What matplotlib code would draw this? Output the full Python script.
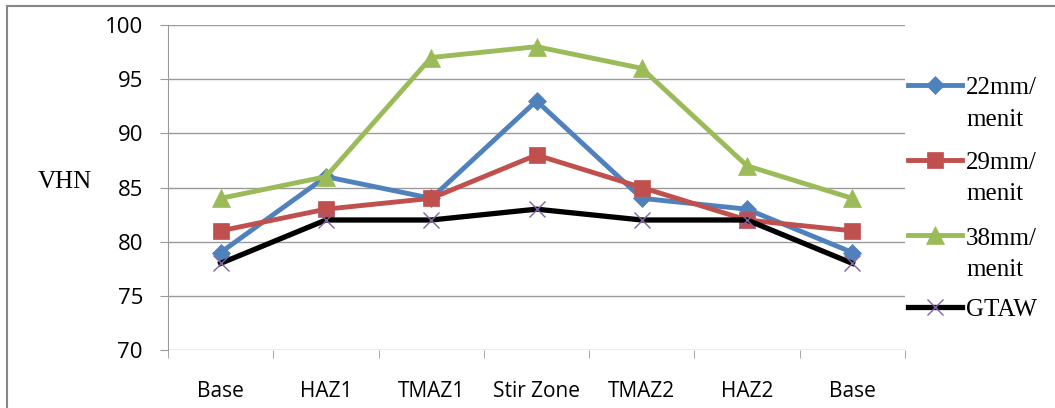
import matplotlib
matplotlib.use("Agg")
import matplotlib.pyplot as plt
from matplotlib.lines import Line2D
from matplotlib.patches import Rectangle

categories = ["Base", "HAZ1", "TMAZ1", "Stir Zone", "TMAZ2", "HAZ2", "Base"]
s22 = [79, 86, 84, 93, 84, 83, 79]
s29 = [81, 83, 84, 88, 85, 82, 81]
s38 = [84, 86, 97, 98, 96, 87, 84]
gtaw = [78, 82, 82, 83, 82, 82, 78]
labels = ["22mm/\nmenit", "29mm/\nmenit", "38mm/\nmenit", "GTAW"]
yticks = [70, 75, 80, 85, 90, 95, 100]

W, H = 1055, 408
fig = plt.figure(figsize=(W / 100, H / 100), dpi=100)
left, right, top, bottom = 168, 905, 25, 350
ax = fig.add_axes([left / W, 1 - bottom / H, (right - left) / W, (bottom - top) / H])

x = list(range(len(categories)))
grid_c = "#9a9a9a"
for v in yticks:
    ax.axhline(v, color=grid_c, lw=1.0, zorder=0)

styles = [
    (s22, "#4F81BD", "D", 9.5, "#4F81BD", 3.5),
    (s29, "#C0504D", "s", 11.5, "#C0504D", 3.5),
    (s38, "#9BBB59", "^", 12.5, "#9BBB59", 3.5),
    (gtaw, "#000000", "x", 11, "#8064A2", 3.8),
]
for data, c, m, ms, mc, lw in styles:
    ax.plot(x, data, color=c, lw=lw, marker=m, markersize=ms,
            markerfacecolor=mc, markeredgecolor=mc,
            markeredgewidth=1.0 if m == "x" else 0.5, zorder=3,
            solid_joinstyle="round")

ax.set_xlim(-0.5, len(categories) - 0.5)
ax.set_ylim(70, 100)
ax.set_yticks(yticks)
ax.set_xticks(x)
ax.set_xticklabels(categories, fontsize=15, family="Open Sans")
ax.set_yticklabels([str(v) for v in yticks], fontsize=16, family="Open Sans")
for s in ["top", "right", "bottom"]:
    ax.spines[s].set_visible(False)
ax.spines["left"].set_color(grid_c)
ax.spines["left"].set_bounds(70, 100)
ax.tick_params(axis="y", direction="out", length=6, color=grid_c, pad=12)
ax.tick_params(axis="x", length=0, pad=22)
ax.set_xticks([i + 0.5 for i in range(-1, len(categories))], minor=True)
ax.tick_params(axis="x", which="minor", direction="out", length=6, color=grid_c)

fig.text(38 / W, 1 - 182 / H, "VHN", family="Liberation Serif", fontsize=18,
         ha="left", va="center")

leg_y = [85, 160, 235, 307]
for (data, c, m, ms, mc, lw), lab, yy in zip(styles, labels, leg_y):
    yf = 1 - yy / H
    fig.add_artist(Line2D([908 / W, 962 / W], [yf, yf], color=c, lw=lw,
                          transform=fig.transFigure))
    fig.add_artist(Line2D([935 / W], [yf], marker=m, markersize=ms,
                          color=mc, markerfacecolor=mc, markeredgecolor=mc,
                          markeredgewidth=1.0 if m == "x" else 0.5,
                          transform=fig.transFigure))
    for k, line in enumerate(lab.split("\n")):
        fig.text(966 / W, 1 - (yy + 1 + 31 * k) / H, line,
                 family="Liberation Serif", fontsize=18, ha="left",
                 va="center_baseline")

fig.add_artist(Rectangle((7 / W, -0.1), 1.2, 1 - 6 / H + 0.1, fill=False,
                         edgecolor="#868686", lw=1.5, transform=fig.transFigure))

fig.savefig("out.png", dpi=100)
